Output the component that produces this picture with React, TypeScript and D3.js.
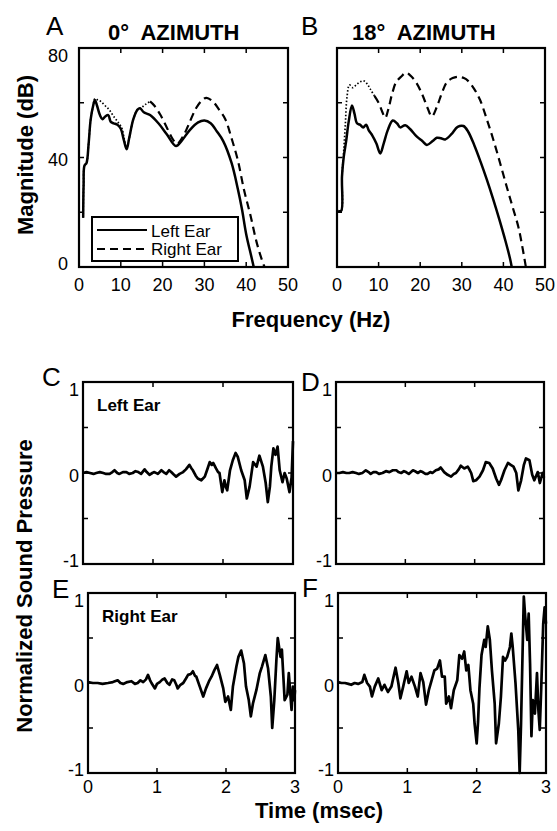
import * as React from 'react';
import * as d3 from 'd3';

type Pt = [number, number];

// ---- frequency responses [Hz, dB] ----
const leftEar0: Pt[] = [
  [1.0, 18], [1.1, 30], [1.3, 37], [1.8, 38], [2.3, 45], [2.8, 54], [3.4, 59], [3.8, 61], [4.3, 59],
  [5.0, 55.5], [5.6, 54], [6.3, 55], [7.0, 55.5], [7.6, 53], [8.3, 52.5], [9.2, 52], [10.0, 50.5],
  [10.7, 46.5], [11.4, 43], [12.0, 47], [13.0, 54], [14.0, 57.5], [14.6, 58], [15.5, 56.5], [17.0, 55.5],
  [19.0, 52.5], [21.0, 48.5], [23.2, 44.2], [24.5, 46], [26.5, 50], [28.5, 52.8], [30.0, 53.5],
  [31.5, 52.5], [33.0, 49.5], [34.5, 46], [36.5, 38], [38.0, 28.5], [39.0, 21], [40.0, 12], [41.2, 4], [41.8, 0]
];
const rightEar0: Pt[] = [
  [1.0, 18], [1.1, 30], [1.3, 37], [1.8, 38], [2.3, 45], [2.8, 54], [3.4, 59], [3.8, 61.5], [4.5, 61],
  [5.2, 60.5], [6.2, 59], [7.2, 57.5], [8.3, 55], [9.3, 53], [10.2, 51], [10.8, 47], [11.4, 43.5],
  [12.0, 47], [13.0, 54], [14.0, 57.5], [15.0, 58.3], [16.0, 59.5], [17.0, 60.5], [18.0, 59],
  [19.5, 55.5], [21.0, 51], [22.5, 46.5], [23.5, 45], [25.0, 48], [26.5, 53], [28.0, 58], [29.5, 61],
  [30.5, 61.8], [32.0, 60.5], [33.5, 57.5], [35.0, 54], [36.5, 47], [38.0, 39], [39.5, 28], [41.0, 19],
  [42.5, 9], [44.0, 1.5], [44.4, 0]
];
const leftEar18: Pt[] = [
  [0.3, 20.5], [1.0, 20.5], [1.2, 33], [1.6, 40], [2.2, 46], [2.8, 53], [3.6, 59], [4.2, 56], [4.8, 52.5],
  [5.5, 52], [6.3, 51], [7.0, 52], [7.6, 50], [8.5, 48], [9.5, 45], [10.4, 41.5], [11.2, 45], [12.2, 50],
  [13.4, 53.5], [14.4, 52.5], [15.2, 51], [16.4, 51.8], [17.5, 50.5], [19.2, 47.6], [20.5, 46], [21.6, 44.6],
  [23.0, 46], [24.0, 47.2], [25.0, 47], [26.0, 46.6], [27.5, 48.5], [29.0, 51.2], [30.4, 51.5], [31.5, 49.5],
  [33.0, 44.5], [34.5, 38.5], [36.0, 32], [37.5, 25], [39.0, 17.5], [40.5, 9.5], [41.6, 3], [42.0, 0]
];
const rightEar18: Pt[] = [
  [0.3, 20.5], [1.0, 20.5], [1.2, 33], [1.6, 42], [2.0, 52], [2.4, 62], [3.0, 66.5], [3.8, 65.5], [4.6, 66.5],
  [5.4, 67.5], [6.4, 68], [7.2, 67], [8.0, 65], [9.0, 62.5], [10.0, 60], [10.8, 57], [11.6, 54.5], [12.4, 58],
  [13.2, 63], [14.2, 67.5], [15.4, 69.5], [16.6, 71], [17.6, 70], [19.0, 67.5], [20.5, 63], [21.8, 58],
  [22.8, 55], [24.0, 58.5], [25.2, 63.5], [26.4, 67.5], [27.8, 69], [29.2, 69.5], [30.5, 69], [31.5, 68],
  [33.0, 65], [34.4, 61], [36.0, 54], [37.6, 46.4], [39.2, 38], [40.8, 29.3], [42.2, 22], [43.6, 14.6],
  [44.6, 7], [45.4, 0]
];
const dottedUntil0 = 17;
const dottedUntil18 = 9;

// ---- impulse responses [msec, normalized pressure] ----
const wave0Left: Pt[] = [
  [0, 0], [0.05, 0.01], [0.1, 0], [0.15, -0.01], [0.19, 0], [0.24, 0.01], [0.29, 0], [0.33, -0.01], [0.38, -0.01],
  [0.42, 0.01], [0.45, 0.03], [0.49, 0], [0.52, -0.01], [0.57, 0.01], [0.62, 0.01], [0.66, -0.01], [0.71, 0],
  [0.75, 0.02], [0.79, 0.01], [0.83, -0.01], [0.88, 0.04], [0.91, 0.01], [0.95, -0.02], [0.99, 0], [1.02, 0.01],
  [1.07, -0.01], [1.12, 0.03], [1.15, 0.01], [1.19, -0.01], [1.23, 0.03], [1.26, 0.01], [1.30, -0.02],
  [1.33, -0.04], [1.38, -0.01], [1.43, 0.01], [1.47, 0.04], [1.52, 0.09], [1.55, 0.05], [1.57, 0.03],
  [1.61, -0.03], [1.64, -0.06], [1.69, -0.08], [1.74, -0.04], [1.78, 0.05], [1.81, 0.12], [1.84, 0.09],
  [1.86, 0.11], [1.90, 0.05], [1.93, 0.01], [1.95, 0], [1.99, -0.21], [2.02, -0.08], [2.04, -0.15],
  [2.06, -0.19], [2.10, 0.03], [2.14, 0.14], [2.18, 0.22], [2.21, 0.18], [2.26, 0.03], [2.31, -0.08],
  [2.34, -0.28], [2.38, -0.15], [2.43, 0.12], [2.48, 0.07], [2.52, 0.19], [2.57, 0.07], [2.61, -0.11],
  [2.64, -0.32], [2.67, -0.15], [2.69, 0.07], [2.72, 0.27], [2.75, 0.2], [2.78, 0.29], [2.81, 0.03],
  [2.85, -0.1], [2.88, 0], [2.91, -0.06], [2.95, -0.21], [2.98, -0.05], [3.0, 0.35]
];
const wave18Left: Pt[] = [
  [0, 0], [0.05, 0], [0.1, 0.01], [0.15, 0], [0.19, 0], [0.24, 0.01], [0.29, 0], [0.33, -0.01], [0.38, 0],
  [0.43, 0.03], [0.47, 0.01], [0.5, -0.01], [0.54, 0.01], [0.58, 0.01], [0.62, -0.01], [0.67, 0], [0.72, 0.02],
  [0.77, 0.01], [0.82, 0.03], [0.87, 0.03], [0.9, 0.01], [0.94, 0], [0.98, 0.02], [1.01, 0.01], [1.05, -0.01],
  [1.11, 0.03], [1.14, 0.02], [1.18, 0], [1.22, 0.02], [1.25, 0.01], [1.29, -0.01], [1.32, -0.01], [1.36, 0.01],
  [1.39, 0], [1.44, 0.03], [1.48, 0.04], [1.51, 0.06], [1.56, 0.01], [1.61, -0.02], [1.66, -0.04], [1.7, -0.01],
  [1.73, 0], [1.77, 0.04], [1.8, 0.08], [1.85, 0.05], [1.9, 0.07], [1.93, 0.03], [1.95, 0], [1.98, -0.09],
  [2.02, -0.08], [2.07, -0.04], [2.12, 0.03], [2.16, 0.12], [2.21, 0.11], [2.26, 0.05], [2.31, -0.06],
  [2.35, -0.13], [2.38, -0.08], [2.43, 0.03], [2.48, 0.11], [2.52, 0.09], [2.56, 0.07], [2.6, 0], [2.63, -0.19],
  [2.67, -0.08], [2.71, 0.09], [2.74, 0.16], [2.79, 0.14], [2.83, -0.02], [2.86, -0.08], [2.91, 0.01],
  [2.94, -0.11], [2.98, 0], [3.0, -0.05]
];
const wave0Right: Pt[] = [
  [0, 0.01], [0.07, 0], [0.14, 0], [0.21, -0.01], [0.29, 0], [0.36, 0.01], [0.43, 0.03], [0.47, 0], [0.51, -0.01],
  [0.57, 0.01], [0.63, 0.02], [0.68, -0.01], [0.72, 0], [0.76, 0.03], [0.8, 0.01], [0.84, 0.04], [0.87, 0.09],
  [0.9, 0.03], [0.92, 0], [0.97, -0.06], [1.0, -0.01], [1.04, 0.01], [1.08, 0.04], [1.11, 0.05], [1.15, 0],
  [1.18, -0.02], [1.22, 0.04], [1.25, 0.03], [1.28, -0.02], [1.3, -0.06], [1.34, -0.02], [1.38, 0], [1.42, 0.05],
  [1.45, 0.09], [1.49, 0.1], [1.52, 0.13], [1.55, 0.08], [1.57, 0.07], [1.62, -0.04], [1.67, -0.15], [1.71, -0.06],
  [1.76, 0.03], [1.79, 0.07], [1.83, 0.14], [1.87, 0.2], [1.91, 0.09], [1.96, -0.06], [1.99, -0.21], [2.03, -0.15],
  [2.07, -0.3], [2.1, -0.04], [2.15, 0.18], [2.18, 0.29], [2.22, 0.36], [2.26, 0.22], [2.29, -0.04], [2.33, -0.19],
  [2.36, -0.37], [2.39, -0.23], [2.44, -0.08], [2.49, 0.11], [2.52, 0.18], [2.57, 0.31], [2.61, 0.16],
  [2.65, -0.15], [2.67, -0.5], [2.7, -0.19], [2.73, 0.25], [2.75, 0.5], [2.79, 0.29], [2.81, 0.37], [2.85, -0.19],
  [2.89, -0.13], [2.91, 0.11], [2.95, -0.3], [2.97, -0.04], [2.99, -0.19], [3.0, -0.08]
];
const wave18Right: Pt[] = [
  [0, 0.01], [0.05, 0], [0.1, 0], [0.15, -0.01], [0.19, -0.02], [0.24, 0], [0.29, -0.01], [0.35, 0.01],
  [0.38, 0.09], [0.42, 0], [0.46, -0.04], [0.49, -0.15], [0.53, -0.04], [0.58, 0.05], [0.63, -0.08],
  [0.67, -0.02], [0.72, -0.1], [0.77, -0.04], [0.83, 0.17], [0.87, 0], [0.9, -0.17], [0.94, -0.04], [0.99, 0.13],
  [1.02, 0], [1.06, 0.07], [1.11, -0.04], [1.15, -0.15], [1.19, 0.11], [1.23, 0.01], [1.27, -0.24], [1.31, -0.08],
  [1.35, 0.03], [1.39, 0.14], [1.43, 0.16], [1.47, 0.25], [1.5, 0.07], [1.54, 0.07], [1.56, -0.23], [1.6, -0.15],
  [1.63, -0.28], [1.67, -0.08], [1.72, 0.03], [1.75, 0.31], [1.79, 0.27], [1.82, 0.35], [1.85, 0.14], [1.88, 0.2],
  [1.91, -0.08], [1.95, -0.23], [1.97, -0.45], [2.0, -0.67], [2.02, -0.43], [2.04, -0.06], [2.07, 0.31],
  [2.11, 0.48], [2.13, 0.4], [2.16, 0.63], [2.19, 0.48], [2.22, 0.14], [2.26, -0.23], [2.28, -0.67], [2.32, -0.45],
  [2.35, -0.15], [2.38, 0.29], [2.41, 0.25], [2.44, 0.29], [2.48, 0.4], [2.5, 0.55], [2.52, 0.4], [2.56, 0],
  [2.6, -0.52], [2.62, -1.0], [2.64, -0.45], [2.67, 0.62], [2.68, 0.96], [2.7, 0.74], [2.73, 0.48], [2.75, 0.77],
  [2.77, 0.22], [2.79, -0.59], [2.81, -0.19], [2.84, -0.34], [2.87, 0.11], [2.89, -0.3], [2.91, -0.52],
  [2.93, -0.08], [2.96, 0.66], [2.98, 0.84], [3.0, 0.66]
];

// ---- axes ----
const freqTicks = [0, 10, 20, 30, 40, 50];
const dbTicks = [0, 20, 40, 60, 80];
const dbLabels = [0, 40, 80];
const timeTicks = [0, 1, 2, 3];
const pressureTicks = [-1, -0.5, 0, 0.5, 1];
const pressureLabels = [-1, 0, 1];

const FONT = '"Liberation Sans", Arial, Helvetica, sans-serif';

interface Box { x0: number; x1: number; y0: number; y1: number }

function Frame({ box, x, y, xTicks, yTicks }: any) {
  const t = 5;
  const [xa, xb] = x.domain();
  const [ya, yb] = y.domain();
  return (
    <g stroke="#000" fill="none">
      {xTicks.filter((v) => v !== xa && v !== xb).map((v) => (
        <g key={'x' + v} strokeWidth={1.5}>
          <line x1={x(v)} x2={x(v)} y1={box.y0} y2={box.y0 + t} />
          <line x1={x(v)} x2={x(v)} y1={box.y1} y2={box.y1 - t} />
        </g>
      ))}
      {yTicks.filter((v) => v !== ya && v !== yb).map((v) => (
        <g key={'y' + v} strokeWidth={1.5}>
          <line x1={box.x0} x2={box.x0 + t} y1={y(v)} y2={y(v)} />
          <line x1={box.x1} x2={box.x1 - t} y1={y(v)} y2={y(v)} />
        </g>
      ))}
      <rect x={box.x0} y={box.y0} width={box.x1 - box.x0} height={box.y1 - box.y0} strokeWidth={2.2} />
    </g>
  );
}

// baseline of a y tick label: labels sit a little inside the range, as in the original
function yLabelBase(box: Box, py: number) {
  const frac = (py - box.y0) / (box.y1 - box.y0);
  return py + 8 - 11 * frac + 6;
}

function FreqPanel({ box, left, right, dottedUntil, yLabels, legend }: any) {
  const x = d3.scaleLinear().domain([0, 50]).range([box.x0, box.x1]);
  const y = d3.scaleLinear().domain([0, 80]).range([box.y1, box.y0]);
  const line = d3.line<Pt>().x((d) => x(d[0])).y((d) => y(d[1])).curve(d3.curveCatmullRom.alpha(0.5));
  const dotted = right.filter((d) => d[0] <= dottedUntil);
  const dashed = right.filter((d, i) => d[0] >= dottedUntil || (i + 1 < right.length && right[i + 1][0] > dottedUntil && d[0] <= dottedUntil));
  return (
    <g>
      <path d={line(dotted) || ''} fill="none" stroke="#000" strokeWidth={1.7} strokeDasharray="1.5 2" />
      <path d={line(dashed) || ''} fill="none" stroke="#000" strokeWidth={2.2} strokeDasharray="8 5" />
      <path d={line(left) || ''} fill="none" stroke="#000" strokeWidth={2.5} />
      <Frame box={box} x={x} y={y} xTicks={freqTicks} yTicks={dbTicks} />
      {freqTicks.map((v) => (
        <text key={v} x={x(v)} y={box.y1 + 24} textAnchor="middle" fontSize={18} fontFamily={FONT}>{v}</text>
      ))}
      {yLabels && dbLabels.map((v) => (
        <text key={v} x={box.x0 - 11} y={yLabelBase(box, y(v))} textAnchor="end" fontSize={18} fontFamily={FONT}>{v}</text>
      ))}
      {legend && (
        <g fontFamily={FONT} fontSize={17}>
          <rect x={92} y={217} width={146} height={44} fill="#fff" stroke="#000" strokeWidth={2} />
          <line x1={97} x2={147} y1={230} y2={230} stroke="#000" strokeWidth={2.2} />
          <line x1={97} x2={147} y1={249} y2={249} stroke="#000" strokeWidth={2} strokeDasharray="8 5" />
          <text x={151} y={237}>Left Ear</text>
          <text x={151} y={255}>Right Ear</text>
        </g>
      )}
    </g>
  );
}

function WavePanel({ box, data, xLabels, note }: any) {
  const x = d3.scaleLinear().domain([0, 3]).range([box.x0, box.x1]);
  const y = d3.scaleLinear().domain([-1, 1]).range([box.y1, box.y0]);
  const line = d3.line<Pt>().x((d) => x(d[0])).y((d) => y(d[1]));
  return (
    <g>
      <path d={line(data) || ''} fill="none" stroke="#000" strokeWidth={2.7} strokeLinejoin="round" />
      <Frame box={box} x={x} y={y} xTicks={timeTicks} yTicks={pressureTicks} />
      {pressureLabels.map((v) => (
        <text key={v} x={box.x0 - 4} y={yLabelBase(box, y(v))} textAnchor="end" fontSize={18} fontFamily={FONT}>{v}</text>
      ))}
      {xLabels && timeTicks.map((v) => (
        <text key={v} x={x(v)} y={box.y1 + 20} textAnchor="middle" fontSize={18} fontFamily={FONT}>{v}</text>
      ))}
      {note && (
        <text x={box.x0 + 14} y={box.y0 + 29} fontSize={17} fontWeight="bold" fontFamily={FONT}>{note}</text>
      )}
    </g>
  );
}

export default function App() {
  const boxA = { x0: 79, x1: 288, y0: 48, y1: 267 };
  const boxB = { x0: 337, x1: 545, y0: 48, y1: 267 };
  const boxC = { x0: 83, x1: 293, y0: 382, y1: 564 };
  const boxD = { x0: 336, x1: 544, y0: 382, y1: 564 };
  const boxE = { x0: 88, x1: 295, y0: 593, y1: 773 };
  const boxF = { x0: 338, x1: 546, y0: 593, y1: 773 };
  const letter = { fontSize: 26, fontFamily: FONT };
  const title = { fontSize: 22, fontFamily: FONT, fontWeight: 'bold' as const };
  return (
    <svg width={557} height={831} style={{ position: 'absolute', left: 0, top: 0, background: '#fff' }}>
      <FreqPanel box={boxA} left={leftEar0} right={rightEar0} dottedUntil={dottedUntil0} yLabels legend />
      <FreqPanel box={boxB} left={leftEar18} right={rightEar18} dottedUntil={dottedUntil18} />
      <WavePanel box={boxC} data={wave0Left} note="Left Ear" />
      <WavePanel box={boxD} data={wave18Left} />
      <WavePanel box={boxE} data={wave0Right} xLabels note="Right Ear" />
      <WavePanel box={boxF} data={wave18Right} xLabels />

      <text x={46} y={35} {...letter}>A</text>
      <text x={301} y={35} {...letter}>B</text>
      <text x={42} y={386} {...letter}>C</text>
      <text x={301} y={391} {...letter}>D</text>
      <text x={52} y={598} {...letter}>E</text>
      <text x={302} y={597} {...letter}>F</text>

      <text x={108} y={40} {...title} style={{ whiteSpace: 'pre' }}>{'0°  AZIMUTH'}</text>
      <text x={352} y={40} {...title} style={{ whiteSpace: 'pre' }}>{'18°  AZIMUTH'}</text>

      <text x={311} y={327} textAnchor="middle" {...title}>Frequency (Hz)</text>
      <text x={319} y={818} textAnchor="middle" {...title}>Time (msec)</text>
      <text transform="translate(33,155) rotate(-90)" textAnchor="middle" {...title}>Magnitude (dB)</text>
      <text transform="translate(32,586) rotate(-90)" textAnchor="middle" {...title}>Normalized Sound Pressure</text>
    </svg>
  );
}
